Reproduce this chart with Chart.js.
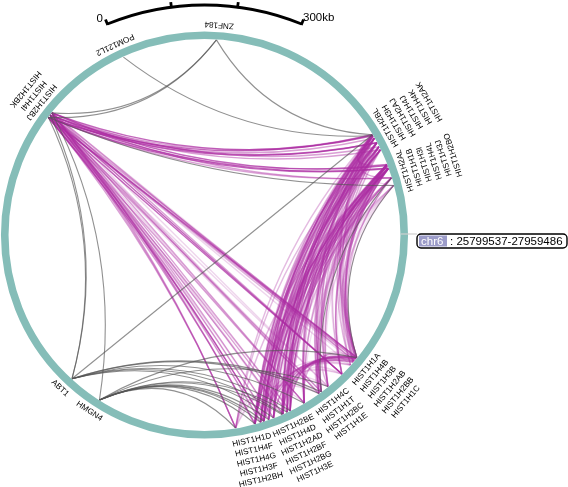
<!DOCTYPE html>
<html>
<head>
<meta charset="utf-8">
<script src="https://cdn.jsdelivr.net/npm/chart.js@4"></script>
<style>
  html, body { margin: 0; padding: 0; background: #fff; }
  canvas { display: block; }
</style>
</head>
<body>
<canvas id="chordChart" width="568" height="487"></canvas>
<script>
// genes and their position in the window, kb from the start, clockwise from the chr6 marker
const genes = ['HIST1H1A', 'HIST1H4B', 'HIST1H3B', 'HIST1H2AB', 'HIST1H2BB', 'HIST1H1C',
    'HIST1H4C', 'HIST1H1T', 'HIST1H2BC', 'HIST1H1E',
    'HIST1H2BE', 'HIST1H4D', 'HIST1H2AD', 'HIST1H2BF', 'HIST1H2BG', 'HIST1H3E',
    'HIST1H1D', 'HIST1H4F', 'HIST1H4G', 'HIST1H3F', 'HIST1H2BH',
    'HIST1H2BJ', 'HIST1H4I', 'HIST1H2BK',
    'HIST1H2BL', 'HIST1H3H', 'HIST1H2AJ', 'HIST1H4J', 'HIST1H4K', 'HIST1H2AK',
    'HIST1H2AL', 'HIST1H1B', 'HIST1H3I', 'HIST1H4L', 'HIST1H3J', 'HIST1H2BO',
    'ZNF184', 'POM121L2', 'ABT1', 'HMGN4'];
const genePos = [233, 236, 240, 243, 250, 272,
    305, 320, 325, 356,
    384, 390, 398, 400, 416, 425,
    434, 440, 485, 450, 451,
    1302, 1307, 1312,
    1975, 1977, 1982, 1991, 1999, 2005,
    2033, 2035, 2040, 2041, 2058, 2072,
    1641, 1473, 796, 735];

// label blocks: position along the ring (kb) and the genes stacked outward
const labelPos = [238, 315, 390, 462, 1976, 2053, 1315, 1644, 1469, 800, 739];
const labelRows = [[0, 1, 2, 3, 4, 5], [6, 7, 8, 9], [10, 11, 12, 13, 14, 15], [16, 17, 18, 19, 20],
    [24, 25, 26, 27, 28, 29], [30, 31, 32, 33, 34, 35], [21, 22, 23], [36], [37], [38], [39]];

// links: [gene, gene, strength 1-3]
const leftRightLinks = [[21, 24, 3], [21, 26, 2], [21, 27, 3], [21, 30, 2], [21, 33, 3], [21, 34, 2],
    [22, 24, 2], [22, 27, 3], [22, 29, 2], [22, 32, 3], [23, 25, 3], [23, 28, 2], [23, 31, 3], [23, 34, 2]];

const leftBottomLinks = [[21, 0, 3], [21, 1, 2], [21, 2, 1], [21, 5, 3], [21, 6, 1], [21, 7, 2], [21, 8, 1],
    [21, 9, 2], [21, 10, 1], [21, 12, 2], [21, 14, 1], [21, 16, 3], [21, 17, 1], [21, 18, 2], [21, 19, 2],
    [22, 0, 2], [22, 3, 1], [22, 4, 1], [22, 5, 3], [22, 7, 1], [22, 8, 2], [22, 9, 1], [22, 11, 2],
    [22, 13, 1], [22, 15, 2], [22, 16, 2], [22, 18, 2], [22, 20, 1],
    [23, 1, 1], [23, 2, 2], [23, 5, 2], [23, 6, 1], [23, 8, 1], [23, 9, 2], [23, 10, 2], [23, 12, 1],
    [23, 14, 2], [23, 15, 1], [23, 17, 2], [23, 18, 2], [23, 19, 1], [23, 20, 2]];

const rightBottomLinks = [
    [24, 0, 2], [24, 3, 1], [24, 6, 2], [24, 7, 2], [24, 8, 2], [24, 10, 2], [24, 12, 3], [24, 14, 2], [24, 16, 3], [24, 18, 2], [24, 20, 2],
    [25, 1, 2], [25, 5, 1], [25, 7, 2], [25, 9, 2], [25, 11, 3], [25, 13, 2], [25, 15, 1], [25, 17, 3], [25, 16, 2], [25, 19, 2],
    [26, 2, 1], [26, 4, 2], [26, 6, 2], [26, 8, 2], [26, 9, 2], [26, 10, 3], [26, 12, 2], [26, 15, 2], [26, 16, 2], [26, 17, 2], [26, 20, 3],
    [27, 0, 2], [27, 5, 2], [27, 7, 2], [27, 9, 3], [27, 11, 2], [27, 13, 3], [27, 14, 2], [27, 17, 2], [27, 18, 2], [27, 19, 3],
    [28, 1, 1], [28, 3, 2], [28, 6, 2], [28, 8, 2], [28, 10, 2], [28, 12, 2], [28, 15, 3], [28, 16, 3], [28, 20, 1], [28, 19, 2],
    [29, 0, 2], [29, 4, 1], [29, 7, 2], [29, 9, 2], [29, 11, 3], [29, 14, 3], [29, 17, 2], [29, 16, 3], [29, 19, 2],
    [30, 0, 2], [30, 2, 1], [30, 5, 2], [30, 6, 2], [30, 8, 2], [30, 10, 3], [30, 12, 2], [30, 14, 2], [30, 16, 3], [30, 17, 2], [30, 20, 2],
    [31, 1, 2], [31, 3, 1], [31, 5, 2], [31, 7, 2], [31, 9, 2], [31, 11, 2], [31, 13, 3], [31, 15, 2], [31, 17, 3], [31, 19, 2],
    [32, 0, 2], [32, 4, 2], [32, 6, 2], [32, 8, 2], [32, 10, 3], [32, 12, 2], [32, 14, 3], [32, 16, 2], [32, 18, 2], [32, 20, 1],
    [33, 1, 2], [33, 2, 2], [33, 5, 2], [33, 7, 2], [33, 9, 2], [33, 11, 2], [33, 13, 1], [33, 15, 3], [33, 17, 2], [33, 19, 3],
    [34, 0, 2], [34, 3, 2], [34, 6, 1], [34, 8, 1], [34, 10, 2], [34, 12, 3], [34, 14, 1], [34, 16, 2], [34, 20, 2],
    [35, 1, 1], [35, 5, 1], [35, 7, 1], [35, 9, 1], [35, 11, 1], [35, 13, 1], [35, 15, 1], [35, 17, 1], [35, 20, 1]];

const bottomLinks = [[0, 6, 1], [0, 8, 1], [0, 10, 2], [0, 12, 1], [0, 14, 1], [0, 16, 2], [0, 18, 1],
    [1, 7, 1], [1, 9, 1], [1, 11, 1], [1, 13, 2], [1, 15, 1], [1, 17, 1],
    [2, 6, 1], [2, 9, 1], [2, 10, 1], [2, 12, 1], [2, 16, 1], [2, 19, 1],
    [3, 8, 1], [3, 11, 1], [3, 14, 2], [3, 17, 1], [4, 7, 1], [4, 10, 1], [4, 13, 1], [4, 20, 1],
    [5, 9, 1], [5, 12, 1], [5, 15, 1], [6, 16, 1], [6, 11, 1], [8, 14, 1], [8, 18, 1], [9, 16, 1],
    [10, 18, 1], [12, 19, 1], [14, 18, 1]];

const rightLinks = [[24, 30, 2], [25, 32, 1], [26, 31, 1], [27, 34, 2], [28, 33, 1], [24, 35, 1]];

const grayLinks = [[36, 21], [36, 23], [36, 24], [37, 25], [21, 38], [22, 38], [23, 39], [21, 35], [38, 24],
    [35, 0], [34, 7], [38, 8], [38, 9], [38, 10], [38, 12], [38, 14], [38, 7],
    [39, 0], [39, 6], [39, 11], [39, 13], [39, 15], [39, 16], [39, 17], [39, 18], [39, 19]];

// scale bar ticks in kb and marker text
const barTicks = [0, 100, 200, 300];
const barLabels = ['0', '300kb'];
const windowKb = 2160;
const regionChrom = 'chr6';
const regionText = ': 25799537-27959486';

const RING = 199.75;
const ANCHOR = 195.5;
const LINK_PULL = 48;
const pinkAlpha = [0, 0.2, 0.45, 0.72];
const fanAlpha = [0, 0.14, 0.32, 0.55];

function pointAt(kb, r) {
    const a = kb / windowKb * 2 * Math.PI;
    return { x: r * Math.cos(a), y: -r * Math.sin(a) };
}

function linkDataset(a, b, color, width) {
    return {
        data: [pointAt(genePos[a], ANCHOR), pointAt(genePos[b], ANCHOR)],
        showLine: false,
        pointRadius: 0,
        borderColor: color,
        borderWidth: width
    };
}

const pinkLinks = [...bottomLinks, ...rightLinks, ...leftBottomLinks, ...leftRightLinks];
const datasets = pinkLinks.map(l => linkDataset(l[0], l[1], `rgba(172, 44, 162, ${pinkAlpha[l[2]]})`, 1.4));
rightBottomLinks.forEach(l => datasets.push(linkDataset(l[0], l[1], `rgba(172, 44, 162, ${fanAlpha[l[2]]})`, 1.4)));
grayLinks.forEach(l => datasets.push(linkDataset(l[0], l[1], 'rgba(85, 85, 85, 0.65)', 1.1)));

// long links through the middle stay almost straight, short ones bend by the full pull
function linkPull(d) {
    const t = Math.min(1, Math.max(0, (d - 30) / 80));
    return LINK_PULL * t * t * (3 - 2 * t);
}

// scatter points carry the link ends, this draws the curve between them
const chordLinks = {
    id: 'chordLinks',
    beforeDatasetsDraw(chart) {
        const ctx = chart.ctx;
        const cx = chart.scales.x.getPixelForValue(0);
        const cy = chart.scales.y.getPixelForValue(0);
        chart.data.datasets.forEach((ds, i) => {
            const pts = chart.getDatasetMeta(i).data;
            const mx = (pts[0].x + pts[1].x) / 2;
            const my = (pts[0].y + pts[1].y) / 2;
            const d = Math.hypot(cx - mx, cy - my) || 1;
            const pull = linkPull(d) / d;
            ctx.beginPath();
            ctx.moveTo(pts[0].x, pts[0].y);
            ctx.quadraticCurveTo(mx + (cx - mx) * pull, my + (cy - my) * pull, pts[1].x, pts[1].y);
            ctx.strokeStyle = ds.borderColor;
            ctx.lineWidth = ds.borderWidth;
            ctx.stroke();
        });
    }
};

// ring, scale bar, gene labels and the region box
const ringAndLabels = {
    id: 'ringAndLabels',
    afterDatasetsDraw(chart) {
        const ctx = chart.ctx;
        const sx = chart.scales.x;
        const sy = chart.scales.y;
        const cx = sx.getPixelForValue(0);
        const cy = sy.getPixelForValue(0);
        const px = v => sx.getPixelForValue(v) - cx;

        ctx.save();
        ctx.beginPath();
        ctx.arc(cx, cy, px(RING), 0, Math.PI * 2);
        ctx.strokeStyle = '#85bdb8';
        ctx.lineWidth = 7.6;
        ctx.stroke();

        // scale bar sits on its own wider arc above the ring
        const barCy = sy.getPixelForValue(-27);
        const barR = 257;
        const barStart = -Math.PI / 2 - 22.2 * Math.PI / 180;
        const barAngle = kb => barStart + kb / barTicks[barTicks.length - 1] * 44.4 * Math.PI / 180;
        ctx.strokeStyle = '#000';
        ctx.lineWidth = 2.8;
        ctx.lineCap = 'butt';
        ctx.beginPath();
        ctx.arc(cx, barCy, barR, barAngle(0), barAngle(barTicks[barTicks.length - 1]));
        ctx.stroke();
        barTicks.forEach(kb => {
            const a = barAngle(kb);
            ctx.beginPath();
            ctx.moveTo(cx + (barR - 1) * Math.cos(a), barCy + (barR - 1) * Math.sin(a));
            ctx.lineTo(cx + (barR + 5) * Math.cos(a), barCy + (barR + 5) * Math.sin(a));
            ctx.stroke();
        });
        ctx.fillStyle = '#000';
        ctx.textBaseline = 'middle';
        ctx.font = '11.5px "Liberation Sans", Arial, sans-serif';
        ctx.textAlign = 'right';
        ctx.fillText(barLabels[0], 103, 19);
        ctx.textAlign = 'left';
        ctx.fillText(barLabels[1], 303, 18);

        // gene labels run along the ring, each block stacks outward
        ctx.font = '8.2px "Liberation Sans", Arial, sans-serif';
        ctx.textAlign = 'center';
        ctx.fillStyle = '#000';
        labelRows.forEach((row, g) => {
            const a = labelPos[g] / windowKb * 2 * Math.PI;
            row.forEach((geneIdx, k) => {
                const p = pointAt(labelPos[g], 210.5 + k * 10.2);
                ctx.save();
                ctx.translate(sx.getPixelForValue(p.x), sy.getPixelForValue(p.y));
                ctx.rotate(a - Math.PI / 2);
                ctx.fillText(genes[geneIdx], 0, 0);
                ctx.restore();
            });
        });

        // region marker
        const boxX = cx + px(212.5);
        const boxY = cy - 1;
        ctx.strokeStyle = '#cfcfcf';
        ctx.lineWidth = 1.2;
        ctx.beginPath();
        ctx.moveTo(cx + px(196.5), boxY);
        ctx.lineTo(boxX, boxY);
        ctx.stroke();
        ctx.beginPath();
        ctx.roundRect(boxX, boxY, 150, 14, 4);
        ctx.fillStyle = '#fff';
        ctx.fill();
        ctx.fillStyle = '#9c9cc9';
        ctx.fillRect(boxX + 2, boxY + 1.5, 28, 11);
        ctx.strokeStyle = '#000';
        ctx.lineWidth = 1.4;
        ctx.stroke();
        ctx.font = '11.5px "Liberation Sans", Arial, sans-serif';
        ctx.fillStyle = '#fff';
        ctx.textAlign = 'left';
        ctx.fillText(regionChrom, boxX + 4, boxY + 7.5);
        ctx.fillStyle = '#000';
        ctx.fillText(regionText, boxX + 33, boxY + 7.5);
        ctx.restore();
    }
};

new Chart(document.getElementById('chordChart'), {
    type: 'scatter',
    data: { datasets: datasets },
    options: {
        responsive: false,
        animation: false,
        events: [],
        layout: { padding: 0 },
        plugins: { legend: { display: false }, title: { display: false }, tooltip: { enabled: false } },
        scales: {
            x: { type: 'linear', display: false, min: -204.5, max: 363.5 },
            y: { type: 'linear', display: false, min: -252, max: 235 }
        }
    },
    plugins: [chordLinks, ringAndLabels]
});
</script>
</body>
</html>
